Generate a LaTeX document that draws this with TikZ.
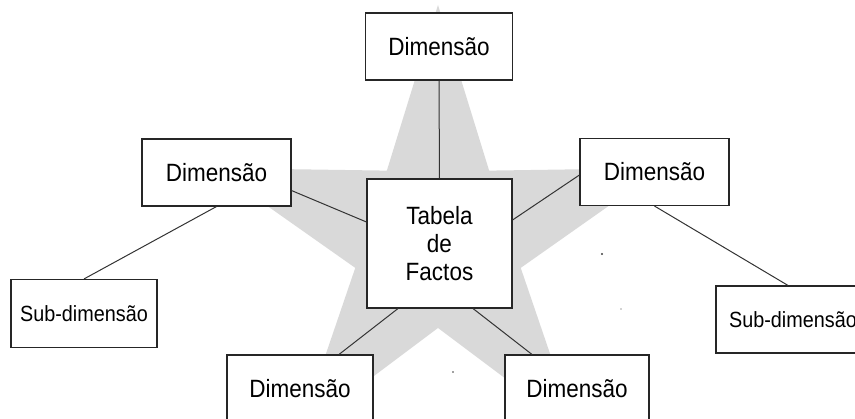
\documentclass[tikz,border=0pt]{standalone}
\usepackage{fontspec}
\setmainfont[FakeStretch=0.9]{Liberation Sans}
\usetikzlibrary{shadows}
\begin{document}
\begin{tikzpicture}[x=1pt, y=-1pt,
  box/.style={draw=black!85, line width=1.1pt, fill=white, inner sep=0pt,
    align=center,
    drop shadow={shadow xshift=0.8pt, shadow yshift=-0.8pt, fill=black!85, opacity=1}},
  dimbox/.style={box, minimum width=147pt, minimum height=67pt,
    font=\fontsize{25}{28}\selectfont},
  subbox/.style={box, minimum height=68pt,
    font=\fontsize{22}{24}\selectfont},
  link/.style={draw=black!80, line width=1pt},
  starfill/.style={fill=black!15},
  speck/.style={fill=black!75}
]
\useasboundingbox (0,0) rectangle (855,419);
\clip (0,0) rectangle (855,419);

% grey five-pointed star behind the fact table
\fill[starfill] (438,5)
  \foreach \i in {0,...,4} {
    -- ({438+87*cos(126+72*\i)},{241-87*sin(126+72*\i)})
    -- ({438+236*cos(162+72*\i)},{241-236*sin(162+72*\i)})
  } -- cycle;

% fact table and dimensions
\node[box, minimum width=145pt, minimum height=129pt,
  font=\fontsize{25}{28}\selectfont] (tab) at (439.5,243.5) {Tabela\\de\\Factos};
\node[dimbox] (top) at (439,46.5) {Dimensão};
\node[dimbox, minimum width=149pt] (ld) at (216.5,172.5) {Dimensão};
\node[dimbox, minimum width=149pt] (rd) at (654.5,172) {Dimensão};
\node[dimbox, minimum width=146pt] (bl) at (300,388.5) {Dimensão};
\node[dimbox, minimum width=144pt] (br) at (577,388.5) {Dimensão};

% sub-dimensions
\node[subbox, minimum width=146pt] (ls) at (84,313.5) {Sub-dimensão};
\node[subbox, minimum width=154pt, minimum height=67pt] (rs) at (793,319.5) {Sub-dimensão};

% connectors
\draw[link] (top.south) -- (tab.north);
\draw[link] ([yshift=16pt]ld.south east) -- ([yshift=21.5pt]tab.west);
\draw[link] ([yshift=-3pt]rd.west) -- ([yshift=23.5pt]tab.east);
\draw[link] ([xshift=-41.5pt]tab.south) -- ([xshift=39pt]bl.north);
\draw[link] ([xshift=33.5pt]tab.south) -- ([xshift=-45pt]br.north);
\draw[link] (ld.south) -- (ls.north);
\draw[link] (rd.south) -- ([xshift=-5pt]rs.north);

% small specks
\fill[speck] (602,254) circle (1.1pt);
\fill[speck] (453,372) circle (0.8pt);
\fill[black!35] (621,309) circle (0.9pt);
\end{tikzpicture}
\end{document}
